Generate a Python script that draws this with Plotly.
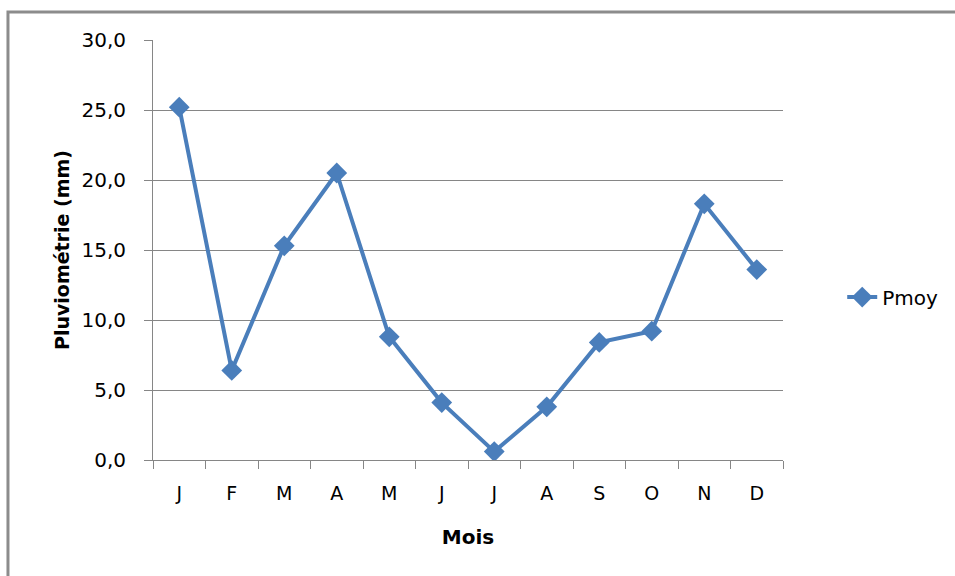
import plotly.graph_objects as go

mois_idx = list(range(12))
mois = ["J", "F", "M", "A", "M", "J", "J", "A", "S", "O", "N", "D"]
pmoy = [25.2, 6.4, 15.3, 20.5, 8.8, 4.1, 0.6, 3.8, 8.4, 9.2, 18.3, 13.6]
y_ticks = [0, 5, 10, 15, 20, 25, 30]

blue = "#4a7ebb"
grey = "#868686"
font_family = "'DejaVu Sans', sans-serif"

fig = go.Figure()
fig.add_trace(go.Scatter(
    x=mois_idx, y=pmoy, name="Pmoy", mode="lines+markers",
    line=dict(color=blue, width=4),
    marker=dict(symbol="diamond", size=16, color=blue),
))

fig.update_layout(
    width=955, height=576,
    margin=dict(l=153, r=172, t=40, b=116),
    paper_bgcolor="white", plot_bgcolor="white",
    separators=", ",
    font=dict(family=font_family, size=20, color="#000000"),
    showlegend=True,
    legend=dict(x=1.094, y=0.388, xanchor="left", yanchor="middle",
                font=dict(size=20), bgcolor="rgba(0,0,0,0)"),
    shapes=[dict(type="rect", xref="paper", yref="paper",
                 x0=-0.2302, x1=1.6, y0=-0.6, y1=1.0667,
                 line=dict(color="#8c8c8c", width=3), layer="below")],
)
fig.update_xaxes(
    range=[-0.5, 11.5], tickvals=mois_idx, ticktext=mois, ticks="",
    showline=True, linecolor=grey, linewidth=1,
    showgrid=False, zeroline=False, tickfont=dict(size=19),
    minor=dict(tickvals=[i - 0.5 for i in range(13)], ticks="outside",
               ticklen=8, tickcolor=grey, showgrid=False),
    ticklabelstandoff=16,
    title=dict(text="<b>Mois</b>", font=dict(size=20), standoff=27),
)
fig.update_yaxes(
    range=[0, 30], tickvals=y_ticks, tickformat=".1f",
    ticks="outside", ticklen=8, tickcolor=grey,
    showline=True, linecolor=grey, linewidth=1,
    showgrid=True, gridcolor=grey, gridwidth=1, zeroline=False,
    tickfont=dict(size=20), ticklabelstandoff=14,
    title=dict(text="<b>Pluviométrie (mm)</b>", font=dict(size=19), standoff=6),
)

fig.write_html("out.html")
